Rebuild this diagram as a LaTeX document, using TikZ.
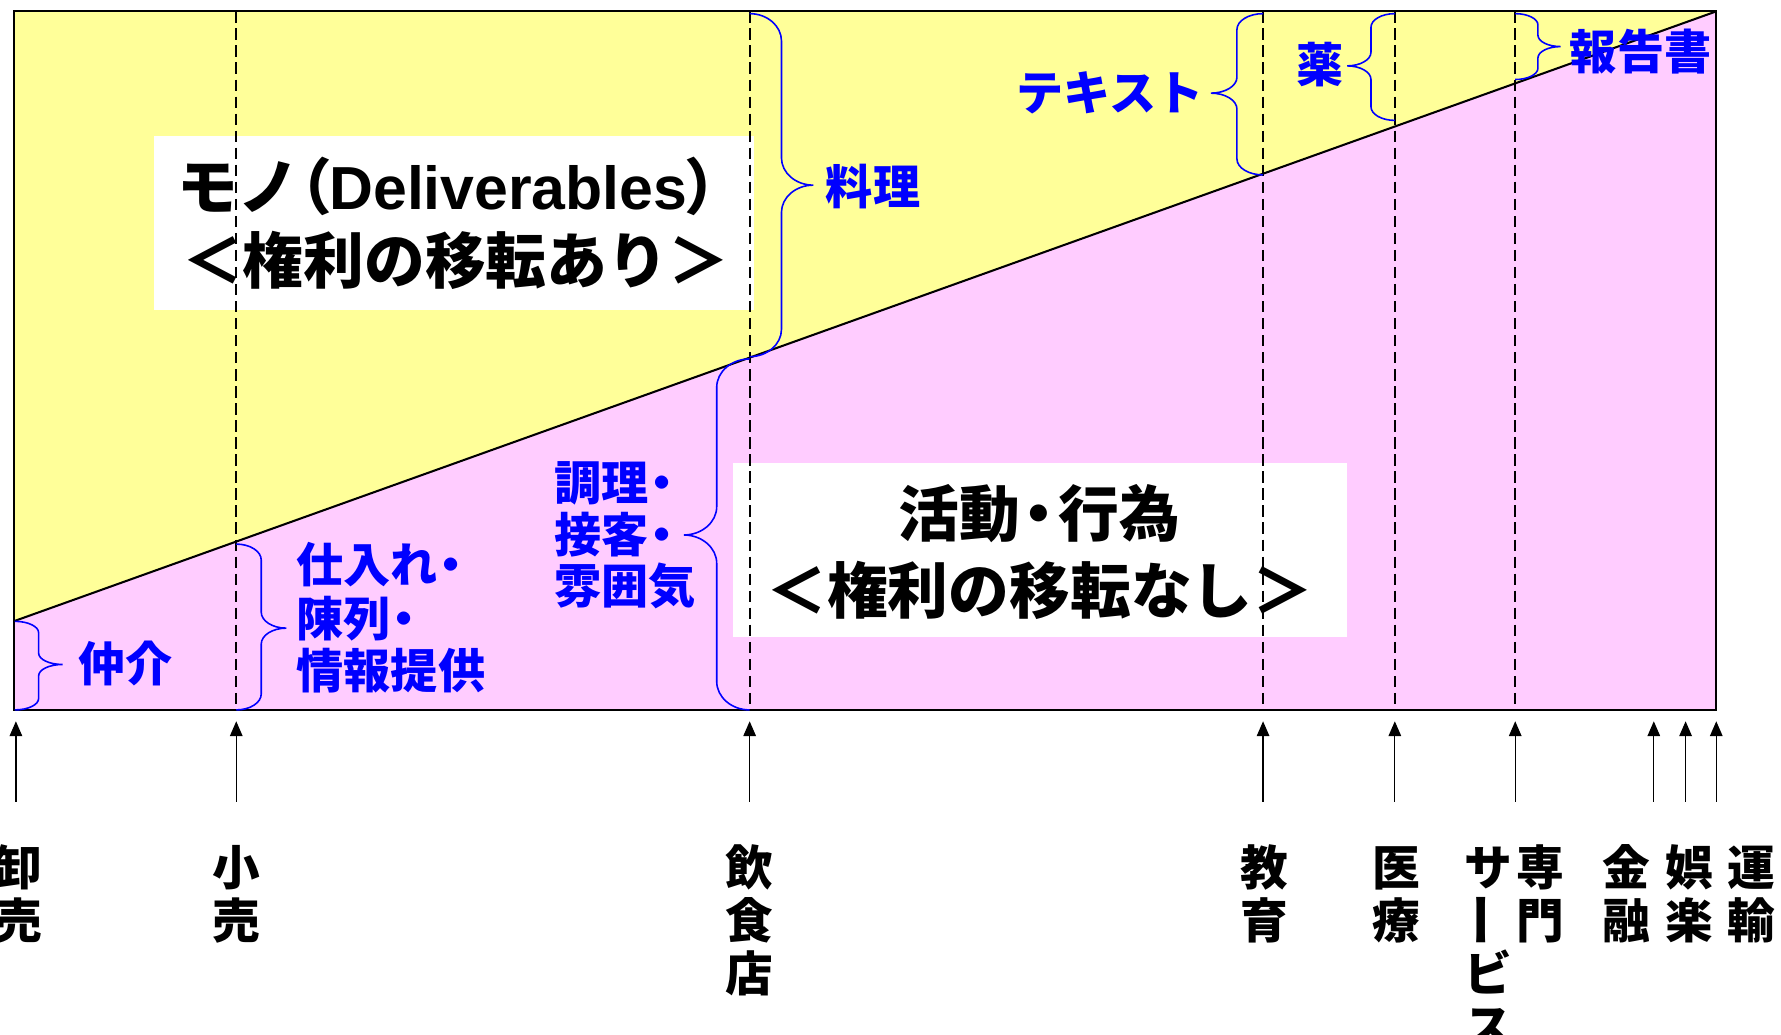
\documentclass[tikz,border=0pt]{standalone}
\usepackage{fontspec}
\newfontfamily\jp{Noto Sans CJK JP}
\newfontfamily\lat{Liberation Sans}
\usetikzlibrary{arrows.meta}
\definecolor{ylw}{RGB}{255,255,153}
\definecolor{pnk}{RGB}{255,204,255}
\definecolor{bblue}{RGB}{0,0,255}
% curly brace: x0, ytop, ybot, ymid, dir, half-width, corner
\newcommand{\cbr}[7]{%
  \draw[brc] (#1,#2) .. controls ({#1+0.55*(#5)*(#6)},#2) and ({#1+(#5)*(#6)},{#2+0.45*(#7)}) .. ({#1+(#5)*(#6)},{#2+(#7)})
   -- ({#1+(#5)*(#6)},{#4-(#7)}) .. controls ({#1+(#5)*(#6)},{#4-0.45*(#7)}) and ({#1+1.45*(#5)*(#6)},#4) .. ({#1+2*(#5)*(#6)},#4)
   .. controls ({#1+1.45*(#5)*(#6)},#4) and ({#1+(#5)*(#6)},{#4+0.45*(#7)}) .. ({#1+(#5)*(#6)},{#4+(#7)})
   -- ({#1+(#5)*(#6)},{#3-(#7)}) .. controls ({#1+(#5)*(#6)},{#3-0.45*(#7)}) and ({#1+0.55*(#5)*(#6)},#3) .. (#1,#3);}
\newcommand{\nd}{\kern-.22em・}
\begin{document}
\begin{tikzpicture}[x=1pt,y=-1pt,
  big/.style={font=\jp\bfseries\fontsize{53.5}{60}\selectfont, inner sep=0, anchor=base},
  lbl/.style={font=\jp\bfseries\fontsize{41.5}{46}\selectfont, text=bblue, inner sep=0},
  cat/.style={font=\jp\bfseries\fontsize{42}{46}\selectfont, inner sep=0, anchor=base},
  frm/.style={line width=1.8pt},
  dsh/.style={line width=1.5pt, dash pattern=on 10pt off 5pt},
  brc/.style={draw=bblue, line width=1.4pt},
  arr/.style={line width=1.1pt, -{Triangle[length=13pt,width=11pt]}}
]
\useasboundingbox (0,0) rectangle (1568,911);
% corners
\coordinate (TL) at (12,10);
\coordinate (TR) at (1511,10);
\coordinate (BR) at (1511,625);
\coordinate (BL) at (12,625);
\coordinate (D0) at (12,547);
% areas
\fill[ylw] (TL) -- (TR) -- (D0) -- cycle;
\fill[pnk] (D0) -- (TR) -- (BR) -- (BL) -- cycle;
% white boxes
\fill[white] (136,120) rectangle (664,273);
\fill[white] (645,408) rectangle (1186,561);
% dashed lines
\foreach \x [count=\i] in {208,660,1112,1228,1334} {
  \coordinate (dt\i) at (\x,10);
  \coordinate (db\i) at (\x,625);
  \draw[dsh] (dt\i) -- (db\i);
}
% diagonal and frame
\draw[frm] (D0) -- (TR);
\draw[frm] (TL) rectangle (BR);
% braces
\cbr{13}{547}{625}{585}{1}{21}{10}
\cbr{208}{479}{625}{553}{1}{22}{14}
\cbr{660}{12}{314}{163}{1}{28}{24}
\cbr{660}{316}{625}{471}{-1}{29}{25}
\cbr{1112}{12}{154}{82}{-1}{23}{14}
\cbr{1228}{12}{106}{58}{-1}{21}{12}
\cbr{1334}{12}{70}{41}{1}{20}{10}
% big texts
\node[big, anchor=base west] (mono1) at (156,184) {モノ\kern-.45em（\kern-.05em{\lat\bfseries Deliverables}\kern-.05em）};
\node[big] (mono2) at (401,250) {＜権利の移転あり＞};
\node[big] (act1) at (915,472) {活動\kern-.18em・\kern-.18em行為};
\node[big] (act2) at (915.5,540) {＜権利の移転なし＞};
% blue labels
\node[lbl, anchor=base west] (chukai) at (69,600) {仲介};
\node[lbl, anchor=base west] (shiire1) at (261,513) {仕入れ\nd};
\node[lbl, anchor=base west] (shiire2) at (261,560) {陳列\nd};
\node[lbl, anchor=base west] (shiire3) at (261,606) {情報提供};
\node[lbl, anchor=base west] (ryori) at (727,180) {料理};
\node[lbl, anchor=base west] (chori1) at (488,441) {調理\nd};
\node[lbl, anchor=base west] (chori2) at (488,486) {接客\nd};
\node[lbl, anchor=base west] (chori3) at (488,531) {雰囲気};
\node[lbl, anchor=base east] (text) at (1060,97) {テキスト};
\node[lbl, anchor=base east] (kusuri) at (1183,73) {薬};
\node[lbl, anchor=base west] (hokoku) at (1382,61) {報告書};
% arrows
\foreach \x [count=\i] in {14,208,660,1112,1228,1334,1456,1484,1511} {
  \coordinate (as\i) at (\x,706);
  \coordinate (ae\i) at (\x,635);
  \draw[arr] (as\i) -- (ae\i);
}
% bottom category labels (vertical)
\foreach \nm/\x/\txt in {oroshi/16/{卸,売}, kouri/208/{小,売}, inshoku/660/{飲,食,店},
    kyoiku/1113/{教,育}, iryo/1229/{医,療}, senmon/1356/{専,門},
    kinyu/1432/{金,融}, goraku/1487/{娯,楽}, unyu/1542/{運,輸}} {
  \foreach \c [count=\i] in \txt {
    \node[cat] (\nm\i) at (\x,{780+(\i-1)*46.5}) {\c};
  }
}
\node[cat] (svc1) at (1310,780) {サ};
\node[cat, anchor=center, rotate=90, xscale=1.15] (svc2) at (1310,810) {ー};
\node[cat] (svc3) at (1310,873) {ビ};
\node[cat] (svc4) at (1310,919.5) {ス};
\end{tikzpicture}
\end{document}
